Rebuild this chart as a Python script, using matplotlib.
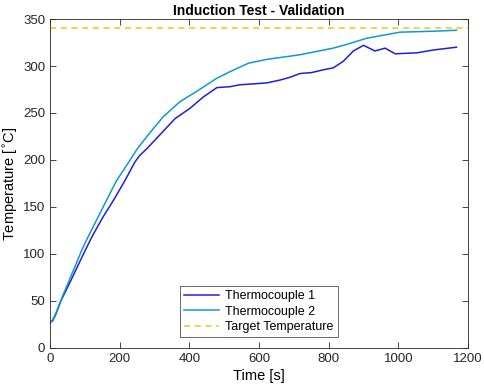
import matplotlib
matplotlib.use('Agg')
import matplotlib.pyplot as plt

# thermocouple readings
t1 = [0, 8, 18, 31, 55, 78, 100, 120, 150, 182, 215, 244, 258, 278, 316, 359, 402,
      440, 479, 517, 545, 584, 622, 660, 689, 718, 751, 785, 813, 842, 871, 900, 933,
      962, 991, 1053, 1100, 1167]
T1 = [27, 29, 37, 50, 68, 86, 103, 118, 138, 157, 178, 198, 205, 212, 227, 244, 255,
      267, 277, 278, 280, 281, 282, 285, 288, 292, 293, 296, 298, 305, 316, 322, 316,
      319, 313, 314, 317, 320]

t2 = [0, 8, 18, 31, 37, 71, 91, 105, 158, 191, 230, 249, 278, 325, 373, 421, 479, 517,
      570, 622, 718, 813, 852, 909, 1005, 1100, 1167]
T2 = [27, 30, 38, 50, 56, 86, 104, 115, 154, 178, 200, 211, 225, 246, 262, 273, 287, 294,
      303, 307, 312, 319, 323, 329.5, 336, 337, 338]

target = 340
xlim = (0, 1200)
ylim = (0, 350)

plt.rcParams.update({'font.family': ['Liberation Sans', 'DejaVu Sans'],
                     'font.size': 9})
fig = plt.figure(figsize=(4.84, 3.91), dpi=100)
ax = fig.add_axes([0.1033, 0.11, 0.8636, 0.8414])

ax.plot(t1, T1, color='#1f1fd8', lw=1.1, label='Thermocouple 1')
ax.plot(t2, T2, color='#0f9acb', lw=1.1, label='Thermocouple 2')
ax.plot(xlim, [target, target], color='#e8c81e', lw=1.1, ls=(0, (4, 3)),
        label='Target Temperature')

ax.set_xlim(xlim)
ax.set_ylim(ylim)
ax.set_xticks(range(0, 1201, 200))
ax.set_yticks(range(0, 351, 50))
ax.tick_params(direction='in', top=True, right=True, length=4, width=0.6,
               colors='#262626', labelsize=9.5)
for s in ax.spines.values():
    s.set_color('#262626')
    s.set_linewidth(0.6)

ax.set_title('Induction Test - Validation', fontsize=10, fontweight='bold', pad=3)
ax.set_xlabel('Time [s]', fontsize=10.5, labelpad=3)
ax.set_ylabel('Temperature [$^{\\circ}$C]', fontsize=10.5, labelpad=2)

leg = ax.legend(loc='lower center', bbox_to_anchor=(0.5, 0.033), fancybox=False,
                edgecolor='#262626', fontsize=9, handlelength=2.8,
                borderpad=0.3, labelspacing=0.3, handletextpad=0.5,
                borderaxespad=0)
leg.get_frame().set_linewidth(0.6)

fig.savefig('out.png', dpi=100)
plt.close()
